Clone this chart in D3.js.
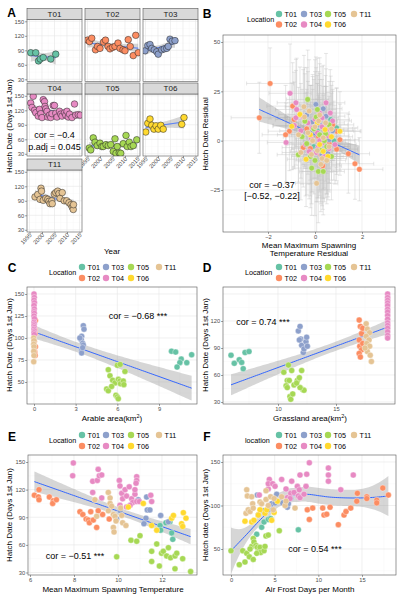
<!DOCTYPE html>
<html><head><meta charset="utf-8">
<script src="https://cdn.jsdelivr.net/npm/d3@7"></script>
<style>body{margin:0;background:#fff}svg{display:block}</style>
</head><body><svg id="c" width="403" height="600"></svg>
<script>
// ================= DATA =================
const locations = ["T01","T02","T03","T04","T05","T06","T11"];
const locColors = ["#66C2A5","#FC8D62","#8DA0CB","#E78AC3","#A6D854","#FFD92F","#E5C494"];

// Panel A: [year, hatch date]
const A_T01 = [[1995.5,85],[1997.5,85],[1998.6,68],[1999.3,72],[2000.5,75],[2003.5,72],[2005.5,82]];
const A_T02 = [[1995,111],[1995.8,108],[1996.7,115],[1998.2,91],[1999,98],[2000,94],[2001.4,107],[2002.2,111],[2003.2,98],[2004,93],[2005,96],[2006,98],[2007.2,105],[2008,94],[2009.2,91],[2010,89],[2011.3,112],[2012.1,98],[2013.3,79],[2014.3,121],[2015.3,85]];
const A_T03 = [[1994.8,89],[1995.9,100],[1996.8,102],[1997.5,94],[1998.5,91],[1999.5,87],[2000.1,82],[2001.5,91],[2002.5,93],[2003.5,94],[2004.1,98],[2004.8,113],[2005.7,109],[2006.8,110]];
const A_T04 = [[1995.5,135],[1996,126],[1996.5,149],[1997,120],[1997.5,115],[1998.5,108],[1999,122],[1999.5,113],[2000,105],[2000.5,142],[2001,138],[2001.2,128],[2001.5,123],[2002,118],[2002.3,106],[2003,110],[2003.5,105],[2004,113],[2004.5,130],[2005,130],[2005.5,114],[2006,106],[2007,118],[2007.5,112],[2008,108],[2009,115],[2009.5,110],[2010,118],[2010.5,106],[2011,112],[2012,105],[2013,133],[2013.5,110],[2014.5,111],[2015.3,110]];
const A_T05 = [[1995.7,42],[1996.3,38],[1997.3,63],[1998,54],[1998.9,47],[2000,52],[2000.7,45],[2001.3,45],[2002.4,49],[2003.3,47],[2004.3,49],[2005.3,35],[2006,61],[2006.4,31],[2006.9,45],[2007.7,32],[2008.3,31],[2009.3,51],[2010.4,68],[2010.9,45],[2011.7,54],[2012.4,45],[2013.3,47],[2014.7,59]];
const A_T06 = [[1995.1,75],[1995.9,93],[1996.8,102],[1997.5,89],[1998.4,81],[1999.2,88],[2000.1,81],[2001.1,89],[2002.1,81],[2009.5,91],[2010.4,105]];
const A_T11 = [[1997.2,98],[1998.3,103],[1999.2,93],[1999.6,116],[1999.8,110],[2000.5,91],[2001.5,95],[2002.3,93],[2002.8,89],[2003.2,84],[2003.9,90],[2004.1,84],[2004.9,104],[2005.5,107],[2006.3,110],[2006.8,105],[2007.2,95],[2008.1,107],[2008.9,90],[2009.9,90],[2010.8,86],[2011.6,82],[2012.1,77],[2012.5,72],[2012.6,82]];
const yearTicks = [1995,2000,2005,2010,2015];

// Panel B: [temperature residual, hatch residual, x error, y error]
const B_T01 = [[0.67,10.7,0.8,22],[0.92,6.5,0.9,20],[0.3,2,0.8,22],[-0.05,-3,0.8,24],[0.5,-5,0.8,22],[0.1,5,0.7,24],[0.8,0,0.9,20]];
const B_T02 = [[-2.37,11.6,1.2,18],[-1.91,29,1.0,18],[-0.95,17.5,1.1,22],[-1.09,4.8,0.9,20],[-1.25,3,1.0,25],[-0.89,10.7,0.8,24],[-0.5,-3.5,0.9,20],[1.06,0.5,0.8,18],[0.92,4.8,1.0,22],[0.92,-4.3,0.9,16],[1.42,-6.6,0.9,20],[1.7,-11.7,0.8,18],[1.89,-14.5,1.0,16],[0.33,-12.8,0.8,22],[0.45,-9,0.9,20],[0.25,-7,0.7,25],[-0.2,-4,0.8,24],[0.6,-1.5,0.9,20],[0.15,2,0.8,22],[-0.35,6,0.7,20],[0.75,8,0.9,18]];
const B_T03 = [[0.04,18.4,0.7,24],[0.35,16.2,0.8,22],[0.47,12.4,0.8,24],[0.47,-2.9,0.8,22],[0.2,8,0.7,26],[-0.2,4,0.8,24],[0.6,0.5,0.9,22],[0.1,-4,0.7,25],[-0.1,9.5,0.8,24],[0.3,-7,0.8,22],[0.75,5,0.9,20],[-0.35,13,0.8,24],[0.55,-6.5,0.8,22]];
const B_T04 = [[-1.06,24,0.9,25],[-0.81,19.2,0.8,22],[-0.78,15.8,0.9,26],[-0.81,11.6,0.8,24],[-0.88,7.7,0.9,22],[-1.23,-0.9,0.8,20],[0.47,19.2,0.8,25],[0.2,14,0.7,28],[0.0,11,0.8,30],[-0.3,9,0.7,26],[0.3,7,0.8,24],[0.55,2.5,0.9,22],[0.1,4,0.8,25],[-0.15,1,0.7,27],[0.35,-1,0.8,24],[0.6,-4,0.9,22],[-0.4,-2,0.8,26],[0.05,-6,0.7,25],[0.4,-8,0.8,23],[-0.6,5,0.9,24],[0.75,10,0.8,20],[0.2,0,0.7,28],[-0.1,6.5,0.8,26],[0.5,5.5,0.9,22],[-0.25,-5.5,0.8,24],[0.65,14,0.8,22],[0.15,-3,0.7,26],[-0.5,12,0.8,24],[0.85,-2,0.9,20],[0.3,11.5,0.7,26]];
const B_T05 = [[-0.31,20.9,0.9,25],[0.1,15.8,0.8,26],[-0.43,9.9,0.8,24],[-0.71,-7.1,0.9,22],[-0.14,-13.9,0.8,24],[0.14,-15.6,0.8,26],[0.35,-15.6,0.9,22],[0.2,3,0.8,28],[0.5,-3,0.9,24],[-0.2,-8,0.8,26],[0.0,-10,0.7,28],[0.6,8,0.8,22],[-0.05,6,0.8,25],[0.4,0,0.9,24],[-0.35,-1.5,0.8,26],[0.25,-5,0.7,26],[0.7,-8,0.9,22],[-0.55,2,0.8,24],[0.05,12,0.8,25],[0.45,3.5,0.8,24]];
const B_T06 = [[-0.64,13.3,0.9,24],[-0.99,7.3,0.8,22],[0.43,5.6,0.8,22],[1.06,4.8,0.9,20],[0.35,-5.4,0.8,24],[-0.38,-9.4,0.8,24],[0.2,-2,0.8,24],[0.7,2,0.9,22],[-0.2,3,0.8,25],[0.55,-8,0.8,22],[0.1,9,0.7,24]];
const B_T11 = [[-0.47,17.2,0.8,26],[0.07,-21.6,0.9,28],[-0.25,15,0.7,26],[0.15,10,0.8,25],[-0.6,-6,0.8,24],[0.45,9,0.8,24],[-0.1,0,0.7,26],[0.3,-9,0.8,24],[0.6,-3,0.9,22],[-0.3,4,0.8,26],[0.0,7,0.7,28],[0.25,-12,0.8,24],[-0.45,12,0.8,25],[0.2,13,0.7,26],[0.5,-10,0.8,22],[-0.15,-7,0.8,25],[0.35,1.5,0.7,26],[-0.7,3,0.9,24],[0.1,-5,0.8,26],[0.7,6,0.9,22]];

// Panel C: [arable area, hatch date]
const C_T01 = [[9.9,85],[10.2,84],[11.35,81],[10.6,76],[10.5,72],[11.0,72],[10.3,67]];
const C_T02 = [[0.1,120],[0.05,110],[0.08,105],[0.02,96],[0.1,90],[0.05,84],[0.08,80]];
const C_T03 = [[3.43,102],[3.55,114],[3.6,110],[3.4,98],[3.5,94],[3.55,92],[3.43,86],[3.43,83],[3.3,100],[3.5,89]];
const C_T04 = [[0.0,150],[0.02,146],[0.0,143],[0.03,140],[0.0,137],[0.02,133],[0.0,130],[0.02,128],[0.0,125],[0.03,122],[0.0,118],[0.02,116],[0.0,114],[0.02,112],[0.0,110],[0.03,108],[0.0,106],[0.02,104]];
const C_T05 = [[5.35,64],[6.0,69],[6.2,70],[6.55,62],[5.47,57],[5.66,52],[5.83,49],[6.07,53],[6.19,51],[6.23,48],[6.43,51],[6.47,47],[5.23,42],[5.35,40],[5.59,45],[5.9,35],[6.0,33],[6.07,31]];
const C_T11 = [[-0.02,100],[0.0,97],[-0.02,93],[0.0,90],[-0.02,85],[0.0,80],[-0.02,73]];

// Panel D: [grassland area, hatch date]
const D_T01 = [[5.95,82],[6.23,73],[6.66,77],[6.87,74],[7.0,67],[7.16,85],[7.5,86]];
const D_T02 = [[17.0,121],[17.1,114],[17.2,106],[17.3,112],[17.0,99],[17.05,92],[17.2,88],[17.0,84],[17.1,80],[17.3,95]];
const D_T03 = [[11.75,109],[11.9,114],[11.96,100],[12.04,93],[12.18,85],[12.24,89],[12.41,97],[12.47,102],[12.53,92],[11.84,99]];
const D_T04 = [[19.45,150],[19.45,146],[19.45,143],[19.45,140],[19.45,137],[19.45,133],[19.45,130],[19.45,126],[19.45,122],[19.45,118],[19.45,115],[19.45,112],[19.45,108],[19.45,104],[19.45,101]];
const D_T05 = [[10.9,71],[10.5,63],[10.8,54],[10.97,54],[11.18,65],[11.38,49],[11.67,54],[11.84,57],[12.04,65],[12.13,44],[12.24,43],[11.9,46],[11.03,36],[11.1,33],[11.27,39],[10.7,48],[10.8,46],[11.6,51]];
const D_T11 = [[17.6,117],[17.7,111],[17.9,107],[17.6,103],[17.85,99],[17.65,95],[17.9,92],[17.7,86],[17.95,82],[18.05,75],[17.5,90]];

// Panel E: [mean max spawning temperature, hatch date]
const E_T01 = [[11.91,81],[11.94,76],[12.18,84],[12.36,85],[12.44,73],[12.49,66]];
const E_T02 = [[6.2,114],[6.41,120],[6.38,112],[6.41,109],[6.88,112],[7.06,108],[7.03,105],[7.2,109],[8.27,96],[8.4,93],[8.55,88],[8.65,87],[8.7,84],[8.76,96],[8.88,87],[9.03,79],[9.3,93],[9.6,88],[9.1,97]];
const E_T03 = [[10.92,109],[11.3,112],[11.33,98],[11.45,98],[11.27,89],[11.18,83],[11.94,92],[9.94,88],[12.29,85],[10.1,97]];
const E_T04 = [[7.97,149],[7.94,135],[8.85,129],[9.06,130],[9.1,142],[9.15,135],[9.26,136],[8.85,117],[9.26,111],[10.06,130],[10.09,124],[10.17,116],[10.21,110],[10.32,120],[10.39,113],[10.51,123],[10.62,110],[10.67,106],[10.77,115],[10.85,107],[10.85,134],[10.85,130],[10.82,127],[10.77,120],[10.97,107],[11.49,114],[11.53,107],[10.55,103],[10.39,101],[10.09,103]];
const E_T05 = [[10.59,65],[10.85,64],[11.0,70],[9.94,47],[11.76,61],[11.53,53],[11.53,42],[11.88,37],[11.98,51],[12.06,53],[12.21,48],[12.29,57],[12.39,46],[12.59,48],[12.67,51],[12.94,45],[12.59,34],[13.3,31]];
const E_T06 = [[11.15,105],[11.53,81],[11.76,76],[12.44,89],[12.52,92],[12.97,95],[13.09,89],[12.89,83],[12.94,80],[10.47,101]];
const E_T11 = [[8.95,109],[9.03,91],[9.56,117],[9.64,111],[9.64,105],[9.71,102],[9.79,93],[9.86,91],[9.91,86],[9.79,79],[9.82,74],[10.12,100],[10.17,92],[10.21,84],[10.36,81],[9.56,97]];

// Panel F: [air frost days per month, hatch date]
const F_T01 = [[2.94,67],[3.51,75],[3.78,81],[4.27,84],[4.54,85],[7.71,72]];
const F_T02 = [[8.74,95],[9.35,97],[8.97,84],[10.5,97],[10.65,89],[10.96,90],[11.34,98],[12.29,78],[12.94,89],[13.17,93],[13.71,97],[14.47,114],[14.4,105],[15.55,110],[15.55,108],[16.69,106],[16.69,103],[17.38,120],[18.02,112]];
const F_T03 = [[3.01,112],[3.13,89],[3.7,94],[4.27,95],[4.66,102],[5.04,103],[5.23,113],[5.92,103],[6.45,98],[6.57,102],[6.84,108]];
const F_T04 = [[3.24,112],[4.27,119],[4.39,130],[4.27,125],[4.77,125],[5.04,122],[5.8,130],[6.3,119],[6.45,109],[6.84,114],[6.95,128],[7.22,115],[7.6,122],[7.71,111],[7.82,118],[7.9,135],[8.59,122],[8.67,136],[8.97,149],[11.15,143],[11.15,135],[11.15,128],[12.57,118],[14.0,135],[6.76,108],[7.9,109],[8.36,113]];
const F_T05 = [[0.0,48],[0.95,32],[1.34,48],[1.6,35],[1.8,45],[2.1,41],[2.37,53],[2.18,50],[2.55,62],[2.63,58],[2.86,54],[3.01,52],[3.24,48],[3.32,52],[3.4,46],[3.78,48],[3.89,53],[4.0,65],[4.27,66],[5.53,71],[2.55,38],[2.94,45]];
const F_T06 = [[1.6,82],[2.37,81],[3.32,95],[3.13,89],[3.89,91],[4.93,92],[5.31,105],[4.66,83],[2.63,83],[4.09,95]];
const F_T11 = [[1.8,118],[1.87,111],[2.37,110],[2.48,102],[1.72,91],[1.98,95],[2.18,93],[2.55,97],[3.32,104],[3.51,102],[4.01,107],[4.01,117],[4.27,100],[4.54,110],[4.85,95],[4.93,108],[5.8,110],[6.19,100],[7.33,97],[6.3,105]];

// ================= HELPERS =================
const FONT = '"Liberation Sans", Arial, Helvetica, sans-serif';
const color = d3.scaleOrdinal().domain(locations).range(locColors);
const svg = d3.select("#c");
const byLoc = (obj) => locations.filter(l => obj[l]).flatMap(l => obj[l].map(d => ({loc:l, d})));
let clipId = 0;
const TICK_FS = 5.8, TITLE_FS = 8, LEG_FS = 7.2, COR_FS = 9;

function tq(df){ return 1.96 + 2.5/df + 3/(df*df); }
function lmFit(pts){
  const n=pts.length, mx=d3.mean(pts,d=>d[0]), my=d3.mean(pts,d=>d[1]);
  let sxx=0,sxy=0; pts.forEach(d=>{sxx+=(d[0]-mx)**2; sxy+=(d[0]-mx)*(d[1]-my);});
  const b=sxy/sxx, a=my-b*mx; let sse=0; pts.forEach(d=>{sse+=(d[1]-a-b*d[0])**2;});
  const s=Math.sqrt(sse/(n-2)), t=tq(n-2);
  return x=>{const f=a+b*x, se=s*Math.sqrt(1/n+(x-mx)**2/sxx); return [f,f-t*se,f+t*se];};
}
function inv3(m){
  const [a,b,c]=m[0],[d,e,f]=m[1],[g,h,i]=m[2];
  const A=e*i-f*h,B=-(d*i-f*g),C=d*h-e*g,det=a*A+b*B+c*C;
  return [[A/det,-(b*i-c*h)/det,(b*f-c*e)/det],[B/det,(a*i-c*g)/det,-(a*f-c*d)/det],[C/det,-(a*h-b*g)/det,(a*e-b*d)/det]];
}
function loessFit(pts, span){
  const n=pts.length, q=Math.floor(span*n), xs=pts.map(d=>d[0]), ys=pts.map(d=>d[1]);
  function lvec(x0){
    const dist=xs.map(x=>Math.abs(x-x0)); const h=d3.sort(dist)[q-1]*1.000001+1e-9;
    const w=dist.map(d=>{const u=d/h; return u<1?Math.pow(1-u*u*u,3):0;});
    const M=[[0,0,0],[0,0,0],[0,0,0]];
    for(let k=0;k<n;k++){const dx=xs[k]-x0, r=[1,dx,dx*dx]; for(let a=0;a<3;a++)for(let b=0;b<3;b++)M[a][b]+=w[k]*r[a]*r[b];}
    const Mi=inv3(M);
    return xs.map((x,k)=>{const dx=x-x0; return w[k]*(Mi[0][0]+Mi[0][1]*dx+Mi[0][2]*dx*dx);});
  }
  let sse=0, tr=0;
  xs.forEach((x,k)=>{const l=lvec(x); const f=d3.sum(l.map((v,j)=>v*ys[j])); sse+=(ys[k]-f)**2; tr+=l[k];});
  const s=Math.sqrt(sse/(n-tr)), t=tq(n-tr);
  return x=>{const l=lvec(x); const f=d3.sum(l.map((v,j)=>v*ys[j])); const se=s*Math.sqrt(d3.sum(l,v=>v*v)); return [f,f-t*se,f+t*se];};
}
function anchored(v0,p0,v1,p1,pa,pb){
  const s=d3.scaleLinear().domain([v0,v1]).range([p0,p1]);
  return d3.scaleLinear().domain([s.invert(pa),s.invert(pb)]).range([pa,pb]);
}
function panelBg(g,x,y,o){
  const [xa,xb]=x.range(), [yb,ya]=y.range();
  g.append("rect").attr("x",xa).attr("y",ya).attr("width",xb-xa).attr("height",yb-ya).attr("fill","#fff");
  const gl=(v,vert,major)=>{ const l=g.append("line").attr("stroke",major?"#e6e6e6":"#f3f3f3").attr("stroke-width",major?0.6:0.35);
    if(vert) l.attr("x1",x(v)).attr("x2",x(v)).attr("y1",ya).attr("y2",yb); else l.attr("y1",y(v)).attr("y2",y(v)).attr("x1",xa).attr("x2",xb); };
  (o.xMinor||[]).forEach(v=>gl(v,true,false)); (o.yMinor||[]).forEach(v=>gl(v,false,false));
  (o.xMajor||[]).forEach(v=>gl(v,true,true)); (o.yMajor||[]).forEach(v=>gl(v,false,true));
  const id="clip"+(clipId++);
  g.append("clipPath").attr("id",id).append("rect").attr("x",xa).attr("y",ya).attr("width",xb-xa).attr("height",yb-ya);
  return g.append("g").attr("clip-path",`url(#${id})`);
}
function panelBorder(g,x,y){
  const [xa,xb]=x.range(), [yb,ya]=y.range();
  g.append("rect").attr("x",xa).attr("y",ya).attr("width",xb-xa).attr("height",yb-ya).attr("fill","none").attr("stroke","#555").attr("stroke-width",0.6);
}
function styleAxis(a){
  a.attr("font-family",FONT).attr("font-size",TICK_FS);
  a.select(".domain").remove();
  a.selectAll(".tick line").attr("stroke","#444").attr("stroke-width",0.5);
  a.selectAll(".tick text").attr("fill","#4d4d4d");
}
function yAxis(g,y,x0,ticks){ const a=g.append("g").attr("transform",`translate(${x0},0)`).call(d3.axisLeft(y).tickValues(ticks).tickSize(2).tickPadding(0.8).tickFormat(d3.format("d"))); styleAxis(a); return a;}
function xAxis(g,x,y0,ticks){ const a=g.append("g").attr("transform",`translate(0,${y0})`).call(d3.axisBottom(x).tickValues(ticks).tickSize(2).tickPadding(0.6).tickFormat(d3.format("d"))); styleAxis(a); return a;}
function smooth(g,fit,x,y,x0,x1){
  const rows=d3.range(0,81).map(i=>{const v=x0+(x1-x0)*i/80, r=fit(v); return {v,f:r[0],lo:r[1],hi:r[2]};});
  g.append("path").datum(rows).attr("d",d3.area().x(d=>x(d.v)).y0(d=>y(d.lo)).y1(d=>y(d.hi))).attr("fill","#999").attr("fill-opacity",0.4);
  g.append("path").datum(rows).attr("d",d3.line().x(d=>x(d.v)).y(d=>y(d.f))).attr("fill","none").attr("stroke","#3366FF").attr("stroke-width",1);
}
function text(t,x,y,o={}){
  const e=svg.append("text").attr("x",x).attr("y",y).attr("font-family",FONT).attr("font-size",o.size||TITLE_FS)
    .attr("text-anchor",o.anchor||"middle").attr("fill",o.fill||"#000").text(t);
  if(o.bold) e.attr("font-weight","bold");
  if(o.rot) e.attr("transform",`rotate(${o.rot},${x},${y})`);
  return e;
}
function legend(title,tx,ty,cx,ry){
  const g=svg.append("g");
  g.append("text").attr("x",tx).attr("y",ty+2.6).attr("font-family",FONT).attr("font-size",LEG_FS).text(title);
  locations.forEach((l,i)=>{
    const col=Math.floor(i/2), row=i%2, X=cx[col], Y=ry[row];
    g.append("circle").attr("cx",X).attr("cy",Y).attr("r",3.2).attr("fill",color(l));
    g.append("text").attr("x",X+5.5).attr("y",Y+2.6).attr("font-family",FONT).attr("font-size",LEG_FS).text(l);
  });
}
function scatter(g,obj,x,y,r){
  g.selectAll(null).data(byLoc(obj)).join("circle").attr("cx",p=>x(p.d[0])).attr("cy",p=>y(p.d[1])).attr("r",r)
    .attr("fill",p=>color(p.loc)).attr("stroke","#fff").attr("stroke-width",0.35);
}

// ================= PANEL A =================
(function(){
  const facets=[{n:"T01",d:A_T01,c:0,r:0},{n:"T02",d:A_T02,c:1,r:0},{n:"T03",d:A_T03,c:2,r:0},
    {n:"T04",d:A_T04,c:0,r:1},{n:"T05",d:A_T05,c:1,r:1},{n:"T06",d:A_T06,c:2,r:1},{n:"T11",d:A_T11,c:0,r:2}];
  const colX=[27,85,143], rowY=[19.5,94,170], W=55, H=62;
  facets.forEach(f=>{
    const g=svg.append("g");
    const x0=colX[f.c], y0=rowY[f.r];
    const x=anchored(1995,x0+2.5,2015,x0+52.5,x0,x0+W);
    const y=anchored(150,y0+1.8,30,y0+H-2.2,y0+H,y0);
    const inner=panelBg(g,x,y,{xMajor:yearTicks,xMinor:[1997.5,2002.5,2007.5,2012.5],yMajor:[30,60,90,120,150],yMinor:[45,75,105,135]});
    const yrs=f.d.map(d=>d[0]);
    smooth(inner,lmFit(f.d),x,y,d3.min(yrs),d3.max(yrs));
    inner.selectAll(null).data(f.d).join("circle").attr("cx",d=>x(d[0])).attr("cy",d=>y(d[1])).attr("r",3.3)
      .attr("fill",color(f.n)).attr("stroke","#222").attr("stroke-width",0.5);
    panelBorder(g,x,y);
    g.append("rect").attr("x",x0).attr("y",y0-11).attr("width",W).attr("height",11).attr("fill","#d9d9d9").attr("stroke","#555").attr("stroke-width",0.6);
    g.append("text").attr("x",x0+W/2).attr("y",y0-2.8).attr("text-anchor","middle").attr("font-family",FONT).attr("font-size",8).attr("fill","#1a1a1a").text(f.n);
    if(f.c===0) yAxis(g,y,x0,[30,60,90,120,150]);
    if(f.n==="T05"||f.n==="T06"||f.n==="T11"){
      const a=xAxis(g,x,y0+H,yearTicks);
      a.selectAll(".tick text").attr("text-anchor","end").attr("dy",0).attr("y",4).attr("transform","rotate(-45)").attr("x",-1);
    }
    if(f.n==="T04"){
      g.append("text").attr("x",x0+W/2).attr("y",y0+44).attr("text-anchor","middle").attr("font-family",FONT).attr("font-size",COR_FS).text("cor = \u22120.4");
      g.append("text").attr("x",x0+W/2).attr("y",y0+55.5).attr("text-anchor","middle").attr("font-family",FONT).attr("font-size",COR_FS).text("p.adj = 0.045");
    }
  });
  text("Year",112,254);
  text("Hatch Date (Days 1st Jan)",12,126,{rot:-90});
  text("A",11.5,16.5,{size:12,bold:true});
})();

// ================= PANEL B =================
(function(){
  const g=svg.append("g");
  const x=anchored(-2,268,2,362,223,396);
  const y=anchored(50,42,-25,190,232,35);
  const inner=panelBg(g,x,y,{xMajor:[-2,0,2],xMinor:[-3,-1,1,3],yMajor:[-25,0,25,50],yMinor:[-37.5,-12.5,12.5,37.5]});
  const B={T01:B_T01,T02:B_T02,T03:B_T03,T04:B_T04,T05:B_T05,T06:B_T06,T11:B_T11};
  const pts=byLoc(B);
  const eb=inner.append("g").attr("stroke","#c4c4c4").attr("stroke-width",0.5).attr("stroke-opacity",0.85);
  pts.forEach(p=>{
    const [vx,vy,ex,ey]=p.d;
    eb.append("line").attr("x1",x(vx-ex)).attr("x2",x(vx+ex)).attr("y1",y(vy)).attr("y2",y(vy));
    [vx-ex,vx+ex].forEach(v=>eb.append("line").attr("x1",x(v)).attr("x2",x(v)).attr("y1",y(vy)-2).attr("y2",y(vy)+2));
    eb.append("line").attr("x1",x(vx)).attr("x2",x(vx)).attr("y1",y(vy-ey)).attr("y2",y(vy+ey));
    [vy-ey,vy+ey].forEach(v=>eb.append("line").attr("x1",x(vx)-2).attr("x2",x(vx)+2).attr("y1",y(v)).attr("y2",y(v)));
  });
  const all=pts.map(p=>[p.d[0],p.d[1]]);
  smooth(inner,lmFit(all),x,y,d3.min(all,d=>d[0]),d3.max(all,d=>d[0]));
  inner.selectAll(null).data(pts).join("circle").attr("cx",p=>x(p.d[0])).attr("cy",p=>y(p.d[1])).attr("r",2.8)
    .attr("fill",p=>color(p.loc)).attr("stroke","#fff").attr("stroke-width",0.35);
  panelBorder(g,x,y);
  yAxis(g,y,223,[-25,0,25,50]);
  xAxis(g,x,232,[-2,0,2]);
  text("cor = \u22120.37",272,188,{size:COR_FS});
  text("[\u22120.52, \u22120.22]",272,199,{size:COR_FS});
  text("Mean Maximum Spawning",309,247.5);
  text("Temperature Residual",309,256);
  text("Hatch Date Residual",208,134,{rot:-90});
  legend("Location",247,19,[279,304,328,354],[14,24.5]);
  text("B",207,18,{size:12,bold:true});
})();

// ================= PANEL C =================
(function(){
  const g=svg.append("g");
  const x=anchored(0,34,9,159,27,197);
  const y=anchored(50,382,150,294,404,287);
  const inner=panelBg(g,x,y,{xMajor:[0,3,6,9],xMinor:[1.5,4.5,7.5,10.5],yMajor:[50,75,100,125,150],yMinor:[37.5,62.5,87.5,112.5,137.5]});
  const C={T01:C_T01,T02:C_T02,T03:C_T03,T04:C_T04,T05:C_T05,T11:C_T11};
  const all=byLoc(C).map(p=>p.d);
  smooth(inner,lmFit(all),x,y,d3.min(all,d=>d[0]),d3.max(all,d=>d[0]));
  scatter(inner,C,x,y,3);
  panelBorder(g,x,y);
  yAxis(g,y,27,[50,75,100,125,150]);
  xAxis(g,x,404,[0,3,6,9]);
  text("cor = \u22120.68 ***",138,319,{size:COR_FS});
  const t=text("Arable area(km",112,421);
  t.append("tspan").attr("dy",-3).attr("font-size",5.5).text("2");
  t.append("tspan").attr("dy",3).text(")");
  text("Hatch Date (Days 1st Jan)",12,345,{rot:-90});
  legend("Location",49,272.5,[82,106,131,159],[267,278]);
  text("C",12,272,{size:12,bold:true});
})();

// ================= PANEL D =================
(function(){
  const g=svg.append("g");
  const x=anchored(10,278,15,336,223,395);
  const y=anchored(120,321,30,402,404,287);
  const inner=panelBg(g,x,y,{xMajor:[10,15],xMinor:[7.5,12.5,17.5],yMajor:[30,60,90,120,150],yMinor:[45,75,105,135]});
  const D={T01:D_T01,T02:D_T02,T03:D_T03,T04:D_T04,T05:D_T05,T11:D_T11};
  const all=byLoc(D).map(p=>p.d);
  smooth(inner,lmFit(all),x,y,d3.min(all,d=>d[0]),d3.max(all,d=>d[0]));
  scatter(inner,D,x,y,3);
  panelBorder(g,x,y);
  yAxis(g,y,223,[30,60,90,120]);
  xAxis(g,x,404,[10,15]);
  text("cor = 0.74 ***",263,325,{size:COR_FS});
  const t=text("Grassland area(km",310,421);
  t.append("tspan").attr("dy",-3).attr("font-size",5.5).text("2");
  t.append("tspan").attr("dy",3).text(")");
  text("Hatch Date (Days 1st Jan)",208,345,{rot:-90});
  legend("Location",245,272.5,[279,304,328,354],[267,278]);
  text("D",207,272,{size:12,bold:true});
})();

// ================= PANEL E =================
(function(){
  const g=svg.append("g");
  const x=anchored(6,30,12,162,28,197);
  const y=anchored(150,462,30,572.5,575,455);
  const inner=panelBg(g,x,y,{xMajor:[6,8,10,12],xMinor:[7,9,11,13],yMajor:[30,60,90,120,150],yMinor:[45,75,105,135]});
  const E={T01:E_T01,T02:E_T02,T03:E_T03,T04:E_T04,T05:E_T05,T06:E_T06,T11:E_T11};
  const all=byLoc(E).map(p=>p.d);
  smooth(inner,lmFit(all),x,y,d3.min(all,d=>d[0]),d3.max(all,d=>d[0]));
  scatter(inner,E,x,y,3);
  panelBorder(g,x,y);
  yAxis(g,y,28,[30,60,90,120,150]);
  xAxis(g,x,575,[6,8,10,12]);
  text("cor = \u22120.51 ***",75,559,{size:COR_FS});
  text("Mean Maximum Spawning Temperature",113,592);
  text("Hatch Date (Days 1st Jan)",12,515,{rot:-90});
  legend("Location",49,440.5,[82,106,131,159],[435,446]);
  text("E",12,441,{size:12,bold:true});
})();

// ================= PANEL F =================
(function(){
  const g=svg.append("g");
  const x=anchored(0,231,15,362,223,396);
  const y=anchored(150,462,50,549,575,455);
  const inner=panelBg(g,x,y,{xMajor:[0,5,10,15],xMinor:[2.5,7.5,12.5,17.5],yMajor:[50,100,150],yMinor:[25,75,125]});
  const F={T01:F_T01,T02:F_T02,T03:F_T03,T04:F_T04,T05:F_T05,T06:F_T06,T11:F_T11};
  const all=byLoc(F).map(p=>p.d);
  smooth(inner,loessFit(all,0.75),x,y,d3.min(all,d=>d[0]),d3.max(all,d=>d[0]));
  scatter(inner,F,x,y,3);
  panelBorder(g,x,y);
  yAxis(g,y,223,[50,100,150]);
  xAxis(g,x,575,[0,5,10,15]);
  text("cor = 0.54 ***",315,552,{size:COR_FS});
  text("Air Frost Days per Month",310,592);
  text("Hatch date (Days 1st Jan)",208,515,{rot:-90});
  legend("location",245,440.5,[279,304,328,354],[435,446]);
  text("F",207,441,{size:12,bold:true});
})();
</script>
</body></html>
